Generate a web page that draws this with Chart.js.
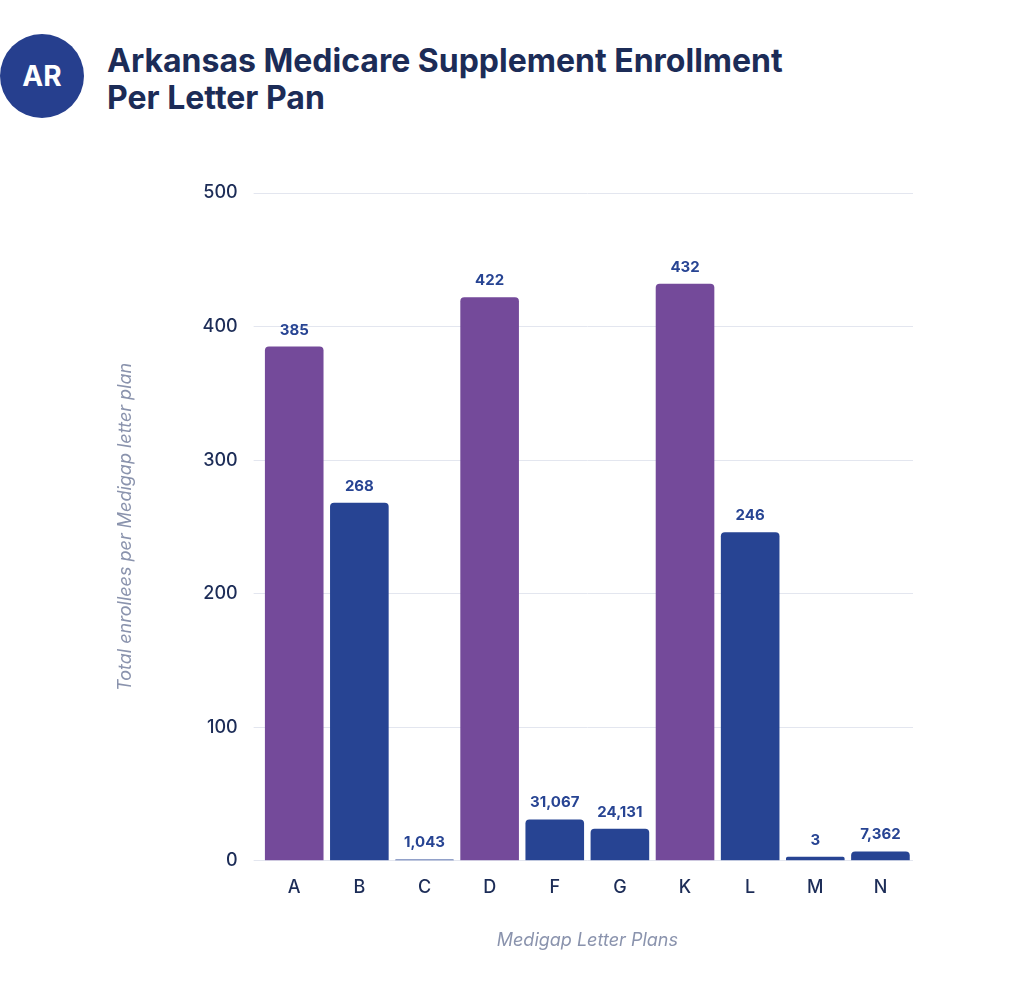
<!DOCTYPE html>
<html><head><meta charset="utf-8">
<script src="https://cdn.jsdelivr.net/npm/chart.js@4"></script>
<style>
html,body{margin:0;padding:0;background:#fff;width:1024px;height:985px;overflow:hidden;font-family:Inter,"Open Sans",sans-serif}
#badge{position:absolute;left:0;top:34px;width:84px;height:84px;border-radius:50%;background:#263f8e;color:#fff;font-weight:700;font-size:28px;display:flex;align-items:center;justify-content:center}
#title{position:absolute;left:107px;top:42px;color:#1c2c57;font-weight:700;font-size:32px;line-height:37px}
#wrap{position:absolute;left:0;top:0;width:1024px;height:985px}
</style></head><body>
<div id="badge">AR</div>
<div id="title">Arkansas Medicare Supplement Enrollment<br>Per Letter Pan</div>
<div id="wrap"><canvas id="c"></canvas></div>
<script>
const categories=["A","B","C","D","F","G","K","L","M","N"];
const barValues=[385,268,1,422,31,24,432,246,3,7];
const valueLabels=["385","268","1,043","422","31,067","24,131","432","246","3","7,362"];
const purple="#744a9a", blue="#274493";
const barColors=["p","b","b","p","b","b","p","b","b","b"].map(c=>c==="p"?purple:blue);
const labelPlugin={id:"lbl",afterDatasetsDraw(ch){
  const ctx=ch.ctx;const meta=ch.getDatasetMeta(0);
  ctx.save();ctx.font="700 15px Inter, sans-serif";ctx.fillStyle="#274493";ctx.textAlign="center";ctx.textBaseline="bottom";
  meta.data.forEach((b,i)=>ctx.fillText(valueLabels[i],b.x,b.y-9));
  ctx.restore();}};
new Chart(document.getElementById("c"),{type:"bar",
data:{labels:categories,datasets:[{data:barValues,backgroundColor:barColors,borderRadius:{topLeft:4,topRight:4},borderSkipped:"bottom",categoryPercentage:0.9,barPercentage:1}]},
options:{responsive:true,maintainAspectRatio:false,animation:false,
layout:{padding:{left:111,right:111,top:193,bottom:30}},
plugins:{legend:{display:false},tooltip:{enabled:false}},
scales:{
x:{grid:{display:false},border:{display:false},ticks:{color:"#1c2c57",font:{size:18,weight:500,family:"Inter"},padding:8},
 title:{display:true,text:"Medigap Letter Plans",color:"#8a93ad",font:{size:18,style:"italic",family:"Inter"},padding:{top:23}}},
y:{min:0,max:500,grid:{color:"#e3e6ef"},border:{display:false},ticks:{stepSize:100,color:"#1c2c57",font:{size:18,weight:500,family:"Inter"},padding:16},
 title:{display:true,text:"Total enrollees per Medigap letter plan",color:"#8a93ad",font:{size:18,style:"italic",family:"Inter"},padding:{bottom:50}}}}},
plugins:[labelPlugin]});
</script></body></html>
